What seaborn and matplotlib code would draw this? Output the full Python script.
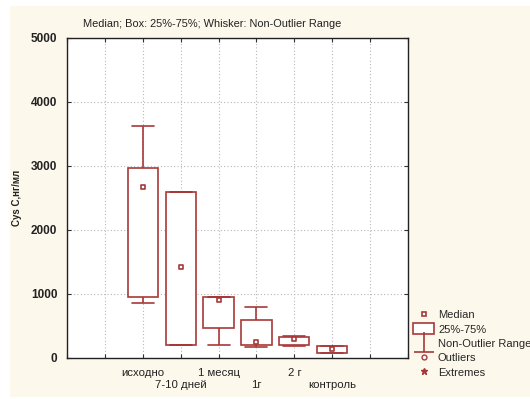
import numpy as np
import pandas as pd
import matplotlib
matplotlib.use("Agg")
import matplotlib.pyplot as plt
from matplotlib.patches import Rectangle, Patch
from matplotlib.lines import Line2D
from matplotlib.path import Path
import seaborn as sns

categories = ["исходно", "7-10 дней", "1 месяц", "1г", "2 г", "контроль"]
whisker_low = [854, 203, 208, 172, 195, 75]
q1 = [958, 203, 464, 198, 203, 83]
median = [2672, 1422, 906, 245, 297, 136]
q3 = [2969, 2589, 958, 589, 333, 187]
whisker_high = [3620, 2589, 958, 797, 345, 195]
y_ticks = [0, 1000, 2000, 3000, 4000, 5000]

title = "Median; Box: 25%-75%; Whisker: Non-Outlier Range"
ylabel = "Cys C,нг/мл"
legend_labels = ["Median", "25%-75%", "Non-Outlier Range", "Outliers", "Extremes"]

RED = "#a83838"
CREAM = "#fdf8ec"
TXT = "#222222"

sns.set_theme(style="white")
plt.rcParams["font.family"] = ["Liberation Sans", "DejaVu Sans"]

positions = np.arange(len(categories)) + 2
rows = []
for i, c in enumerate(categories):
    for v in (whisker_low[i], q1[i], median[i], q3[i], whisker_high[i]):
        rows.append({"pos": positions[i], "val": v, "cat": c})
df = pd.DataFrame(rows)
med_df = pd.DataFrame({"pos": positions, "val": median})

fig = plt.figure(figsize=(5.30, 3.99), dpi=100)
fig.patch.set_facecolor("white")
fig.add_artist(Rectangle((10 / 530, 2 / 399), 520 / 530, 391 / 399,
                         transform=fig.transFigure, facecolor=CREAM,
                         edgecolor="none", zorder=-10))
ax = fig.add_axes([67 / 530, 1 - 358 / 399, (408 - 67) / 530, (358 - 38) / 399])
ax.set_facecolor("white")

sns.boxplot(data=df, x="pos", y="val", native_scale=True, width=0.8, whis=100,
            color="white", linecolor=RED, linewidth=1.2, showfliers=False,
            medianprops=dict(visible=False), ax=ax)
# widen whisker caps
for ln in ax.lines:
    xd = np.asarray(ln.get_xdata(), dtype=float)
    yd = np.asarray(ln.get_ydata(), dtype=float)
    if len(xd) == 2 and yd[0] == yd[1] and abs(xd[1] - xd[0]) < 0.7:
        cx = (xd[0] + xd[1]) / 2
        ln.set_xdata([cx - 0.29, cx + 0.29])

sns.scatterplot(data=med_df, x="pos", y="val", marker="s", s=9,
                facecolor="white", edgecolor=RED, linewidth=1.2, zorder=5, ax=ax)

ax.set_xlim(0, 9)
ax.set_ylim(0, 5000)
ax.set_yticks(y_ticks)
ax.set_yticklabels([str(t) for t in y_ticks], fontsize=8.5, fontweight="bold", color=TXT)

ax.xaxis.remove_overlapping_locs = False
ax.set_xticks(list(range(0, 10)))
major_labels = [""] * 10
for i in range(0, len(categories), 2):
    major_labels[positions[i]] = categories[i]
ax.set_xticklabels(major_labels, fontsize=8.2, color=TXT)
ax.set_xticks(positions[1::2], minor=True)
ax.set_xticklabels(categories[1::2], minor=True, fontsize=8.2, color=TXT)
ax.tick_params(which="major", direction="in", length=3, width=0.8, top=True, right=True,
               bottom=True, left=True, color="#333333", pad=7)
ax.tick_params(which="minor", axis="x", direction="in", length=0, pad=16, bottom=True, top=False)
ax.tick_params(which="minor", axis="y", length=0)
ax.grid(True, which="major", linestyle=(0, (1, 2)), color="#b8b8b8", linewidth=0.8)
ax.set_axisbelow(True)
for s in ax.spines.values():
    s.set_color(TXT)
    s.set_linewidth(1.0)
ax.set_xlabel("")
ax.set_ylabel(ylabel, fontsize=7, fontweight="bold", color=TXT, labelpad=6)

fig.text(83 / 530, 1 - 24 / 399, title, fontsize=7.9, color=TXT, va="center", ha="left")

whisker_path = Path([(0, 0.5), (0, -0.5), (-0.5, -0.5), (0.5, -0.5)],
                    [Path.MOVETO, Path.LINETO, Path.MOVETO, Path.LINETO])
handles = [
    Line2D([], [], linestyle="none", marker="s", markersize=3.5, markerfacecolor="white",
           markeredgecolor=RED, markeredgewidth=1.2),
    Patch(facecolor="white", edgecolor=RED, linewidth=1.2),
    Line2D([], [], linestyle="none", marker=whisker_path, markersize=14, color=RED,
           markeredgewidth=1.2),
    Line2D([], [], linestyle="none", marker="o", markersize=3.5, markerfacecolor="white",
           markeredgecolor=RED, markeredgewidth=1.0),
    Line2D([], [], linestyle="none", marker="*", markersize=5, color=RED),
]
fig.legend(handles, legend_labels, loc="upper left", bbox_to_anchor=(413 / 530, 1 - 309 / 399),
           frameon=False, fontsize=8, handlelength=1.9, handleheight=1.1, handletextpad=0.35,
           labelspacing=0.3, borderaxespad=0, borderpad=0)

fig.savefig("out.png", dpi=100, facecolor=fig.get_facecolor())
